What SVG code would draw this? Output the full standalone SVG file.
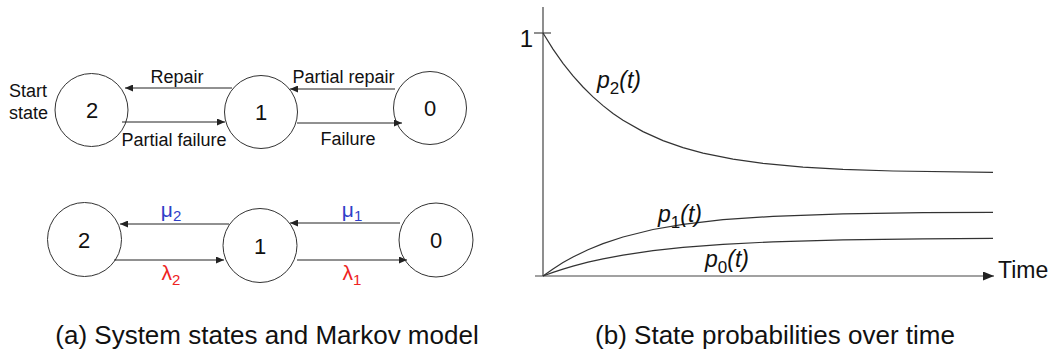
<svg xmlns="http://www.w3.org/2000/svg" width="1053" height="360" viewBox="0 0 1053 360">
<style>
  text { font-family: "Liberation Sans", Arial, sans-serif; fill: #111; }
  .st { fill: #fff; stroke: #333; stroke-width: 1; }
  .num { font-size: 22px; text-anchor: middle; }
  .lbl { font-size: 18px; }
  .mid { text-anchor: middle; }
  .edge { stroke: #222; stroke-width: 1; fill: none; marker-end: url(#ah); }
  .blue { fill: #3040c8; font-size: 21px; text-anchor: middle; }
  .red { fill: #ee2222; font-size: 21px; text-anchor: middle; }
  .axis { stroke: #444; stroke-width: 1.2; fill: none; }
  .curve { stroke: #333; stroke-width: 1.2; fill: none; }
  .pl { font-size: 23px; font-style: italic; }
  .cap { font-size: 26px; text-anchor: middle; }
</style>
<defs>
  <marker id="ah" markerWidth="9" markerHeight="7" refX="8" refY="3.5" orient="auto" markerUnits="userSpaceOnUse">
    <path d="M0,0 L8,3.5 L0,7 z" fill="#222"/>
  </marker>
  <marker id="axh" markerWidth="12" markerHeight="10" refX="11" refY="4.5" orient="auto" markerUnits="userSpaceOnUse">
    <path d="M0,0 L11,4.5 L0,9 z" fill="#222"/>
  </marker>
</defs>
<rect width="1053" height="360" fill="#fff"/>

<!-- Top: system states -->
<g id="start-label">
  <text class="lbl" x="9" y="97">Start</text>
  <text class="lbl" x="9" y="119">state</text>
</g>
<g id="top-state-2"><circle class="st" cx="91.5" cy="110" r="36.5"/><text class="num" x="92" y="118">2</text></g>
<g id="top-state-1"><circle class="st" cx="261" cy="112" r="36.5"/><text class="num" x="261" y="120">1</text></g>
<g id="top-state-0"><circle class="st" cx="430" cy="108" r="36.5"/><text class="num" x="430" y="116">0</text></g>

<!-- Bottom: Markov model -->
<g id="bot-state-2"><circle class="st" cx="84.5" cy="239.5" r="37"/><text class="num" x="84" y="247.5">2</text></g>
<g id="bot-state-1"><circle class="st" cx="260" cy="245.5" r="37"/><text class="num" x="260" y="253.5">1</text></g>
<g id="bot-state-0"><circle class="st" cx="436" cy="240" r="37"/><text class="num" x="436" y="248">0</text></g>

<g id="connectors">
  <line class="edge" x1="232" y1="88" x2="125" y2="88"/>
  <line class="edge" x1="395" y1="89" x2="290" y2="89"/>
  <line class="edge" x1="122" y1="122" x2="225" y2="122"/>
  <line class="edge" x1="297" y1="123" x2="402" y2="123"/>
  <line class="edge" x1="229" y1="224" x2="120" y2="224"/>
  <line class="edge" x1="400" y1="223" x2="290" y2="223"/>
  <line class="edge" x1="114" y1="260" x2="224" y2="260"/>
  <line class="edge" x1="297" y1="260" x2="407" y2="260"/>
</g>
<g id="edge-labels">
  <text class="lbl mid" x="177" y="83">Repair</text>
  <text class="lbl mid" x="343.5" y="83">Partial repair</text>
  <text class="lbl mid" x="174" y="146">Partial failure</text>
  <text class="lbl mid" x="348" y="145">Failure</text>
  <text class="blue" x="171" y="217">μ<tspan font-size="15" dy="4">2</tspan></text>
  <text class="blue" x="352" y="217">μ<tspan font-size="15" dy="4">1</tspan></text>
  <text class="red" x="171" y="280">λ<tspan font-size="15" dy="5">2</tspan></text>
  <text class="red" x="352" y="280">λ<tspan font-size="15" dy="5">1</tspan></text>
</g>

<!-- Chart -->
<g id="chart">
  <line class="axis" x1="543" y1="7" x2="543" y2="276"/>
  <line class="axis" x1="535" y1="276" x2="994" y2="276" marker-end="url(#axh)"/>
  <line class="axis" x1="534" y1="33" x2="551" y2="33"/>
  <text x="533" y="47" font-size="24" text-anchor="end">1</text>
  <text x="998" y="278" font-size="23">Time</text>
  <polyline class="curve" points="543,33 553,49.1 563,63.3 573,75.9 583,87 593,96.9 603,105.6 613,113.4 623,120.2 643,131.6 663,140.6 683,147.6 703,153.1 733,159.2 763,163.4 803,167.1 843,169.4 893,171 993,172.4"/>
  <polyline class="curve" points="543,276 553,268.9 563,262.6 573,257 588,249.7 603,243.6 623,237 653,229.5 683,224.3 723,219.7 773,216.3 843,213.9 923,212.7 993,212.3"/>
  <polyline class="curve" points="543,276 553,272.4 563,269.1 573,266.2 588,262.2 603,258.9 623,255.1 653,250.7 683,247.4 723,244.3 773,241.8 843,239.9 923,238.9 993,238.4"/>
  <text class="pl" x="597" y="88">p<tspan font-size="17" font-style="normal" dy="6">2</tspan><tspan dy="-6">(t)</tspan></text>
  <text class="pl" x="658" y="222">p<tspan font-size="17" font-style="normal" dy="6">1</tspan><tspan dy="-6">(t)</tspan></text>
  <text class="pl" x="705" y="267">p<tspan font-size="17" font-style="normal" dy="6">0</tspan><tspan dy="-6">(t)</tspan></text>
</g>

<g id="captions">
  <text class="cap" x="267" y="344">(a) System states and Markov model</text>
  <text class="cap" x="775" y="344">(b) State probabilities over time</text>
</g>
</svg>
